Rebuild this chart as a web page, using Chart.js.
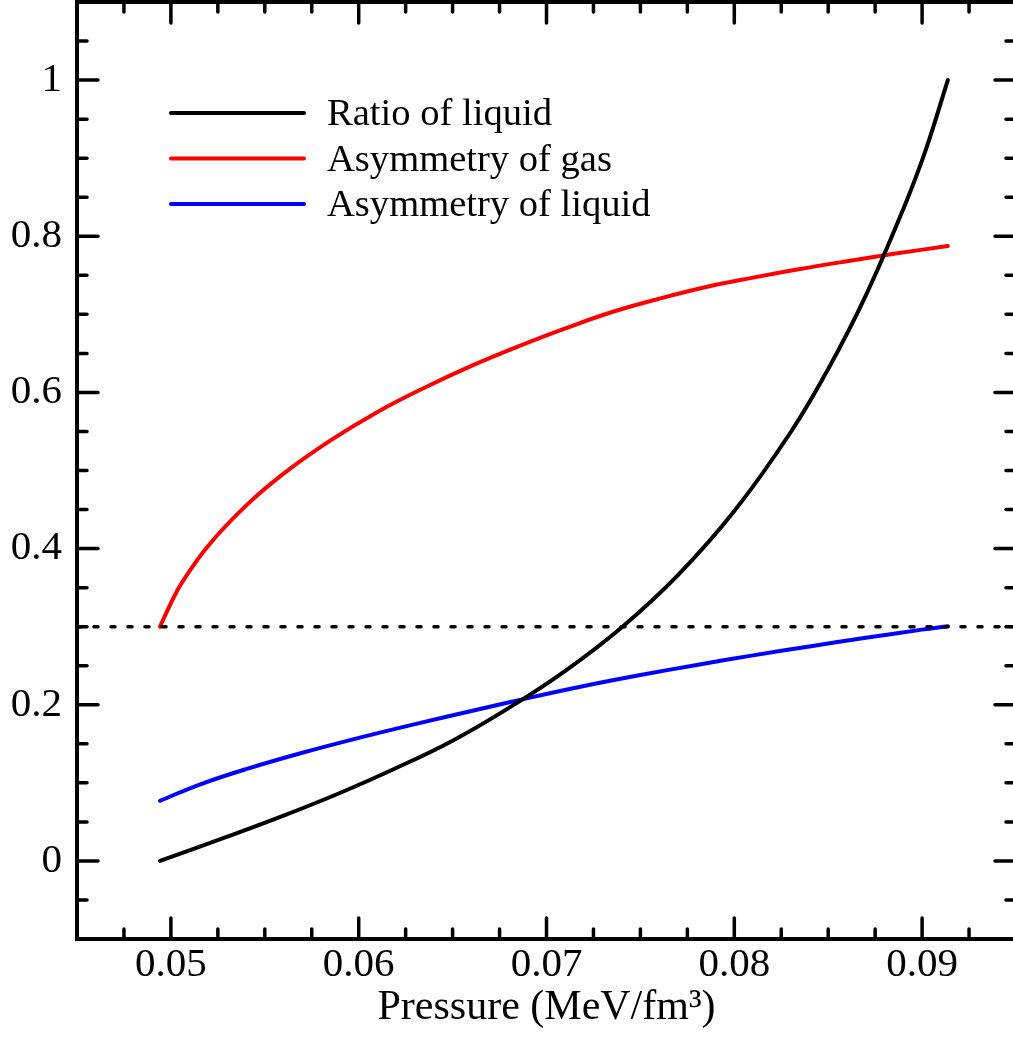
<!DOCTYPE html>
<html>
<head>
<meta charset="utf-8">
<title>Liquid-gas phase</title>
<script src="https://cdn.jsdelivr.net/npm/chart.js@4/dist/chart.umd.min.js"></script>
<style>
  html, body { margin: 0; padding: 0; background: #fff; overflow: hidden; }
  #wrap { width: 1020px; height: 1037px; }
</style>
</head>
<body>
<div id="wrap"><canvas id="chart"></canvas></div>
<script>
// Ratio of liquid (black)
const ratioX = [0.04942, 0.0530, 0.0560, 0.0590, 0.0620, 0.0650, 0.0680, 0.0710, 0.0740, 0.0770,
                0.0800, 0.0830, 0.0850, 0.0870, 0.0890, 0.0902, 0.09137];
const ratioY = [0.000, 0.031, 0.058, 0.087, 0.119, 0.154, 0.196, 0.2435, 0.299, 0.366,
                0.448, 0.549, 0.630, 0.724, 0.835, 0.911, 1.000];

// Asymmetry of gas (red)
const gasX = [0.04942, 0.0500, 0.0506, 0.0520, 0.0540, 0.0560, 0.0585, 0.0610, 0.0635, 0.0660, 0.0685,
              0.0710, 0.0735, 0.0760, 0.0785, 0.0810, 0.0835, 0.0860, 0.0885, 0.09137];
const gasY = [0.300, 0.330, 0.357, 0.404, 0.455, 0.496, 0.5385, 0.575, 0.606, 0.634, 0.659,
              0.682, 0.703, 0.720, 0.735, 0.747, 0.758, 0.768, 0.7775, 0.7875];

// Asymmetry of liquid (blue)
const liqX = [0.04942, 0.0515, 0.0540, 0.0570, 0.0600, 0.0630, 0.0660, 0.0690, 0.0720, 0.0750,
              0.0780, 0.0810, 0.0840, 0.0870, 0.0900, 0.09137];
const liqY = [0.077, 0.0975, 0.1175, 0.1385, 0.1575, 0.1752, 0.192, 0.2085, 0.224, 0.238,
              0.251, 0.2632, 0.2747, 0.2857, 0.2962, 0.3005];

// dotted reference line
const refX = [0.045, 0.095];
const refY = 0.3;

const xTicks = [0.05, 0.06, 0.07, 0.08, 0.09];
const xTickLabels = ['0.05', '0.06', '0.07', '0.08', '0.09'];
const yTicks = [0, 0.2, 0.4, 0.6, 0.8, 1];
const yTickLabels = ['0', '0.2', '0.4', '0.6', '0.8', '1'];
const xMinorStep = 0.0025;
const yMinorStep = 0.05;

const seriesNames = ['Ratio of liquid', 'Asymmetry of gas', 'Asymmetry of liquid'];
const seriesColors = ['#000000', '#ff0000', '#0000ff'];

function pts(xs, ys) {
    return xs.map((x, i) => ({ x: x, y: ys[i] }));
}

const FONT = 'Liberation Serif, Times New Roman, serif';

// frame, inward ticks and legend
const framePlugin = {
    id: 'frame',
    afterDraw(chart) {
        const ctx = chart.ctx;
        const a = chart.chartArea;
        const xs = chart.scales.x;
        const ys = chart.scales.y;
        ctx.save();
        ctx.strokeStyle = '#000';
        ctx.lineCap = 'round';
        ctx.lineWidth = 3.5;

        function tickX(v, len) {
            const p = xs.getPixelForValue(v);
            ctx.beginPath();
            ctx.moveTo(p, a.bottom); ctx.lineTo(p, a.bottom - len);
            ctx.moveTo(p, a.top); ctx.lineTo(p, a.top + len);
            ctx.stroke();
        }
        function tickY(v, len) {
            const p = ys.getPixelForValue(v);
            ctx.beginPath();
            ctx.moveTo(a.left, p); ctx.lineTo(a.left + len, p);
            ctx.moveTo(a.right, p); ctx.lineTo(a.right - len, p);
            ctx.stroke();
        }
        for (let v = xs.min; v <= xs.max + 1e-9; v += xMinorStep) {
            const major = xTicks.some(t => Math.abs(t - v) < 1e-6);
            tickX(v, major ? 21 : 10);
        }
        for (let v = ys.min; v <= ys.max + 1e-9; v += yMinorStep) {
            const major = yTicks.some(t => Math.abs(t - v) < 1e-6);
            tickY(v, major ? 21 : 10);
        }

        ctx.lineWidth = 4;
        ctx.lineCap = 'butt';
        ctx.strokeRect(a.left, a.top, a.right - a.left, a.bottom - a.top);

        // legend
        ctx.font = '38.6px ' + FONT;
        ctx.textBaseline = 'middle';
        ctx.textAlign = 'left';
        ctx.lineCap = 'round';
        seriesNames.forEach((name, i) => {
            const y = 113 + i * 45.5;
            ctx.strokeStyle = seriesColors[i];
            ctx.lineWidth = 4;
            ctx.beginPath();
            ctx.moveTo(171, y); ctx.lineTo(304, y);
            ctx.stroke();
            ctx.fillStyle = '#000';
            ctx.fillText(name, 327, y + 2);
        });
        ctx.restore();
    }
};

const curveStyle = {
    borderWidth: 4,
    tension: 0.4,
    borderCapStyle: 'round',
    borderJoinStyle: 'round',
    pointRadius: 0
};

new Chart(document.getElementById('chart'), {
    type: 'line',
    data: {
        datasets: [
            {
                label: 'ref',
                data: pts(refX, [refY, refY]),
                borderColor: '#000',
                borderWidth: 3.5,
                borderDash: [4, 13],
                borderCapStyle: 'round',
                pointRadius: 0
            },
            Object.assign({ label: seriesNames[0], data: pts(ratioX, ratioY), borderColor: seriesColors[0] }, curveStyle),
            Object.assign({ label: seriesNames[1], data: pts(gasX, gasY), borderColor: seriesColors[1] }, curveStyle),
            Object.assign({ label: seriesNames[2], data: pts(liqX, liqY), borderColor: seriesColors[2] }, curveStyle)
        ]
    },
    options: {
        responsive: true,
        maintainAspectRatio: false,
        animation: false,
        layout: { padding: { top: 2, right: 4, left: 0, bottom: 0 } },
        plugins: {
            legend: { display: false },
            tooltip: { enabled: false }
        },
        scales: {
            x: {
                type: 'linear',
                min: 0.045,
                max: 0.095,
                afterFit: s => { s.height = 98; s.paddingLeft = 0; s.paddingRight = 0; },
                afterBuildTicks: s => { s.ticks = xTicks.map(v => ({ value: v })); },
                grid: { display: false, drawTicks: false },
                border: { display: false },
                ticks: {
                    color: '#000',
                    padding: 2,
                    maxRotation: 0,
                    font: { family: FONT, size: 41 },
                    callback: v => xTickLabels[xTicks.findIndex(t => Math.abs(t - v) < 1e-6)]
                },
                title: {
                    display: true,
                    text: 'Pressure (MeV/fm³)',
                    color: '#000',
                    font: { family: FONT, size: 42 },
                    padding: { top: 0, bottom: 4 }
                }
            },
            y: {
                type: 'linear',
                min: -0.1,
                max: 1.1,
                afterFit: s => { s.width = 77; s.paddingTop = 0; s.paddingBottom = 0; },
                afterBuildTicks: s => { s.ticks = yTicks.map(v => ({ value: v })); },
                grid: { display: false, drawTicks: false },
                border: { display: false },
                ticks: {
                    color: '#000',
                    padding: 15,
                    font: { family: FONT, size: 41 },
                    callback: v => yTickLabels[yTicks.findIndex(t => Math.abs(t - v) < 1e-6)]
                }
            }
        }
    },
    plugins: [framePlugin]
});
</script>
</body>
</html>
